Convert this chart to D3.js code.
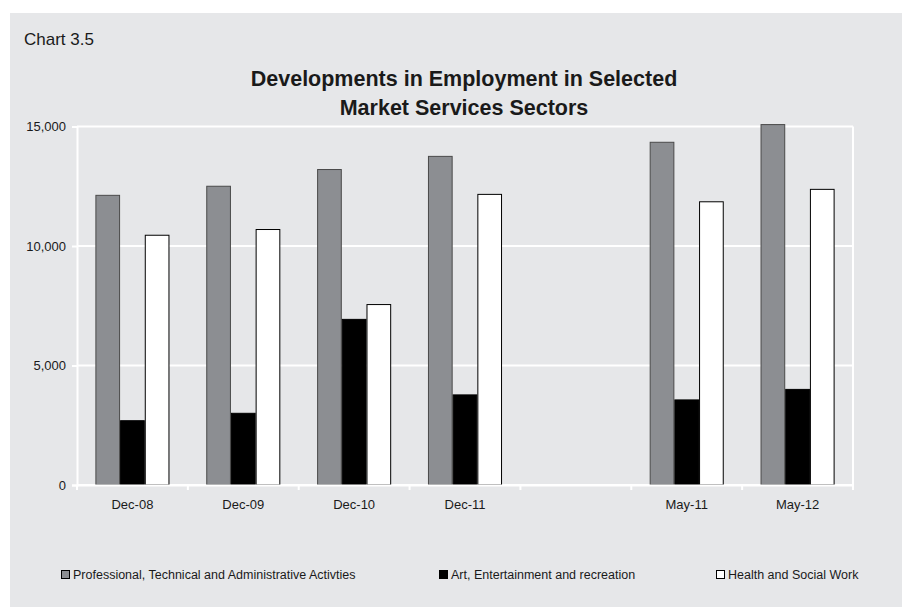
<!DOCTYPE html>
<html>
<head>
<meta charset="utf-8">
<script src="https://cdn.jsdelivr.net/npm/d3@7"></script>
<style>
  body { margin: 0; background: #fff; }
  text { font-family: "Liberation Sans", Arial, Helvetica, sans-serif; fill: #1a1a1a; }
</style>
</head>
<body>
<div class="chart"></div>
<script>
// categories (the 5th slot is an empty gap in the original)
var categories = ["Dec-08", "Dec-09", "Dec-10", "Dec-11", "gap", "May-11", "May-12"];
var seriesNames = ["Professional, Technical and Administrative Activties", "Art, Entertainment and recreation", "Health and Social Work"];
var professional = [12120, 12500, 13200, 13750, null, 14340, 15080];
var art = [2690, 3000, 6930, 3770, null, 3560, 4000];
var health = [10450, 10690, 7550, 12160, null, 11850, 12370];
var yTicks = [0, 5000, 10000, 15000];

var colors = ["#8c8e92", "#000000", "#ffffff"];
var strokes = ["#4a4a4a", "#000000", "#000000"];

var width = 902, height = 607;
var margin = { top: 126.5, left: 77, right: 49, bottom: 122 };

var svg = d3.select(".chart")
  .append("svg")
  .attr("width", width)
  .attr("height", height);

// gray panel
svg.append("rect")
  .attr("x", 10)
  .attr("y", 13)
  .attr("width", width - 10)
  .attr("height", height - 13)
  .attr("fill", "#e6e7e9");

svg.append("text")
  .attr("x", 24)
  .attr("y", 45)
  .style("font-size", "17px")
  .text("Chart 3.5");

var title = svg.append("text")
  .attr("text-anchor", "middle")
  .style("font-size", "21.5px")
  .style("font-weight", "bold");
title.append("tspan").attr("x", 464).attr("y", 86).text("Developments in Employment in Selected");
title.append("tspan").attr("x", 464).attr("y", 115).text("Market Services Sectors");

var x0 = d3.scaleBand()
  .domain(categories)
  .range([margin.left, width - margin.right])
  .padding(0);

var x1 = d3.scaleBand()
  .domain([0, 1, 2])
  .range([0, x0.bandwidth()])
  .paddingInner(0)
  .paddingOuter(0.745);

var y = d3.scaleLinear()
  .domain([0, 15000])
  .range([height - margin.bottom, margin.top]);

// gridlines
svg.append("g")
  .selectAll("line")
  .data(yTicks)
  .enter()
  .append("line")
  .attr("x1", margin.left)
  .attr("x2", width - margin.right)
  .attr("y1", function(d) { return y(d); })
  .attr("y2", function(d) { return y(d); })
  .attr("stroke", "#fff")
  .attr("stroke-width", 2);

// right border
svg.append("line")
  .attr("x1", width - margin.right)
  .attr("x2", width - margin.right)
  .attr("y1", y(15000))
  .attr("y2", y(0) + 5)
  .attr("stroke", "#fff")
  .attr("stroke-width", 2);

// bars
var rows = categories.map(function(c, i) {
  return { cat: c, vals: [professional[i], art[i], health[i]] };
});

var groups = svg.selectAll(".grp")
  .data(rows)
  .enter()
  .append("g")
  .attr("class", "grp")
  .attr("transform", function(d) { return "translate(" + x0(d.cat) + ",0)"; });

groups.selectAll("rect")
  .data(function(d) {
    return d.vals.map(function(v, k) { return { k: k, v: v }; }).filter(function(e) { return e.v != null; });
  })
  .enter()
  .append("rect")
  .attr("x", function(d) { return x1(d.k) + 0.5; })
  .attr("y", function(d) { return y(d.v); })
  .attr("width", x1.bandwidth() - 1)
  .attr("height", function(d) { return y(0) - y(d.v); })
  .attr("fill", function(d) { return colors[d.k]; })
  .attr("stroke", function(d) { return strokes[d.k]; })
  .attr("stroke-width", 1);

// y axis
var yAxis = svg.append("g")
  .attr("transform", "translate(" + margin.left + ",0)")
  .call(d3.axisLeft(y).tickValues(yTicks).tickSize(5).tickPadding(6).tickFormat(d3.format(",")));
yAxis.select(".domain").attr("stroke", "#fff").attr("stroke-width", 2);
yAxis.selectAll(".tick line").attr("stroke", "#fff").attr("stroke-width", 2);
yAxis.selectAll("text").style("font-size", "13px").attr("fill", "#1a1a1a");

// x axis
var xAxis = svg.append("g")
  .attr("transform", "translate(0," + y(0) + ")")
  .call(d3.axisBottom(x0).tickSize(0).tickPadding(15).tickFormat(function(d) { return d === "gap" ? "" : d; }));
xAxis.select(".domain").attr("stroke", "#fff").attr("stroke-width", 2);
xAxis.selectAll("text").style("font-size", "13px").attr("fill", "#1a1a1a");

xAxis.selectAll(".edge")
  .data(categories.map(function(c) { return x0(c); }).concat([x0.range()[1]]))
  .enter()
  .append("line")
  .attr("class", "edge")
  .attr("x1", function(d) { return d; })
  .attr("x2", function(d) { return d; })
  .attr("y1", 0)
  .attr("y2", 5)
  .attr("stroke", "#fff")
  .attr("stroke-width", 2);

// legend
var legendX = [61, 439, 716];
var legend = svg.selectAll(".leg")
  .data(seriesNames)
  .enter()
  .append("g")
  .attr("class", "leg")
  .attr("transform", function(d, i) { return "translate(" + legendX[i] + ",570)"; });

legend.append("rect")
  .attr("x", 0.5)
  .attr("y", 0.5)
  .attr("width", 8)
  .attr("height", 8)
  .attr("fill", function(d, i) { return colors[i]; })
  .attr("stroke", "#000")
  .attr("stroke-width", 1);

legend.append("text")
  .attr("x", 12)
  .attr("y", 9)
  .style("font-size", "12.5px")
  .text(function(d) { return d; });
</script>
</body>
</html>
